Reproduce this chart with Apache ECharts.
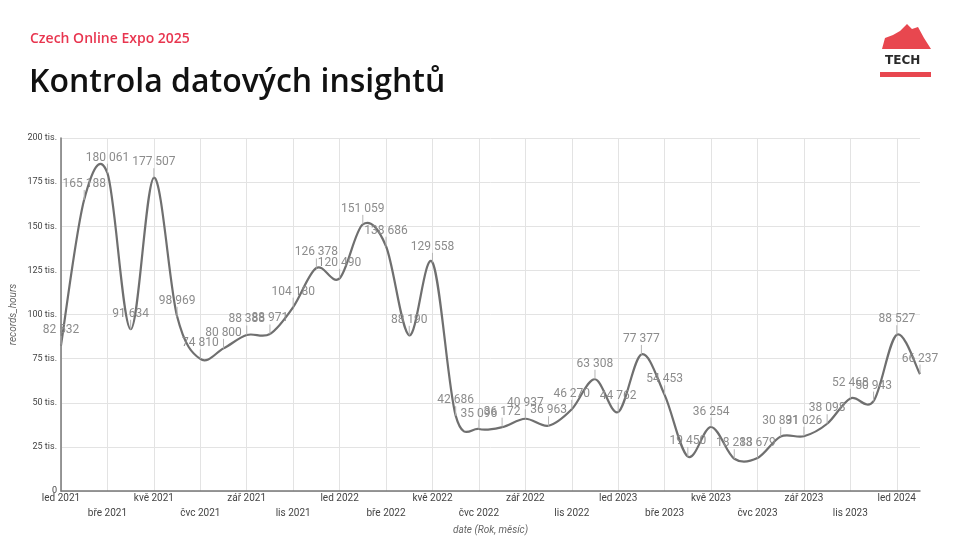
<!DOCTYPE html>
<html>
<head>
<meta charset="utf-8">
<script src="https://cdn.jsdelivr.net/npm/echarts@6/dist/echarts.min.js"></script>
<style>
html,body{margin:0;padding:0;background:#fff;}
#c{width:960px;height:540px;}
</style>
</head>
<body>
<div id="c"></div>
<script>
const monthNames = ['led','úno','bře','dub','kvě','čvn','čvc','srp','zář','říj','lis','pro'];
const categories = [];
for (let y = 2021; y <= 2024; y++) {
  for (let m = 0; m < 12; m++) {
    if (y === 2024 && m > 1) break;
    categories.push(monthNames[m] + ' ' + y);
  }
}
const recordsHours = [
  82532, 165188, 180061, 91634, 177507, 98969, 74810, 80800, 88388, 88971, 104180, 126378,
  120490, 151059, 138686, 88190, 129558, 42686, 35096, 36172, 40937, 36963, 46270, 63308,
  44762, 77377, 54453, 19450, 36254, 18283, 18679, 30891, 31026, 38098, 52468, 50943,
  88527, 66237
];
const yTicks = [0, 25000, 50000, 75000, 100000, 125000, 150000, 175000, 200000];

function fmtNum(v){ return String(v).replace(/\B(?=(\d{3})+(?!\d))/g, ' '); }

const n = recordsHours.length;
const curveData = recordsHours.map(function (v, i) { return [i, v]; });

function renderSegment(params, api) {
  const i = params.dataIndex;
  if (i >= n - 1) return null;
  const pt = function (k) {
    k = Math.max(0, Math.min(n - 1, k));
    return api.coord([k, recordsHours[k]]);
  };
  const p0 = pt(i - 1), p1 = pt(i), p2 = pt(i + 1), p3 = pt(i + 2);
  const t = 1 / 6;
  return {
    type: 'bezierCurve',
    shape: {
      x1: p1[0], y1: p1[1], x2: p2[0], y2: p2[1],
      cpx1: p1[0] + (p2[0] - p0[0]) * t, cpy1: p1[1] + (p2[1] - p0[1]) * t,
      cpx2: p2[0] - (p3[0] - p1[0]) * t, cpy2: p2[1] - (p3[1] - p1[1]) * t
    },
    style: { stroke: '#6f6f6f', lineWidth: 2.2, fill: null }
  };
}

const chart = echarts.init(document.getElementById('c'));
chart.setOption({
  backgroundColor: '#fff',
  animation: false,
  title: [
    { text: 'Czech Online Expo 2025', left: 25, top: 27,
      textStyle: { color: '#e8354f', fontSize: 14, fontWeight: 600, fontFamily: 'Open Sans', letterSpacing: 0.8 } },
    { text: 'Kontrola datových insightů', left: 24, top: 62,
      textStyle: { color: '#111', fontSize: 32, fontWeight: 600, fontFamily: 'Open Sans', letterSpacing: 1.8 } }
  ],
  graphic: [
    { type: 'polygon', shape: { points: [[882,49],[885,38],[893,35],[900,31],[907,24],[912,29],[918,27],[924,38],[931,49]] },
      style: { fill: '#e8474f' } },
    { type: 'text', left: 885, top: 55, style: { text: 'TECH', fill: '#2a2a2a', font: 'bold 12px "DejaVu Sans"', letterSpacing: 3.5 } },
    { type: 'rect', shape: { x: 880, y: 72, width: 51, height: 5 }, style: { fill: '#e8474f' } }
  ],
  grid: { left: 61, right: 40, top: 138, bottom: 49, containLabel: false, outerBoundsMode: 'none' },
  xAxis: {
    type: 'category',
    data: categories,
    boundaryGap: false,
    name: 'date (Rok, měsíc)',
    nameLocation: 'middle',
    nameGap: 26,
    nameTextStyle: { fontStyle: 'italic', color: '#666', fontSize: 10, fontFamily: 'Roboto' },
    axisLine: { lineStyle: { color: '#777', width: 1.5 } },
    axisTick: { show: false },
    axisLabel: {
      interval: 1,
      color: '#444', fontSize: 10, fontFamily: 'Roboto', margin: 0,
      formatter: function (v, i) { return (i % 4 === 2) ? '\n' + v : v; },
      lineHeight: 15
    },
    splitLine: { show: true, interval: 1, lineStyle: { color: '#e3e3e3' } }
  },
  yAxis: {
    type: 'value',
    min: yTicks[0], max: yTicks[yTicks.length - 1], interval: 25000,
    name: 'records_hours',
    nameLocation: 'middle',
    nameGap: 43,
    nameMoveOverlap: false,
    nameTextStyle: { fontStyle: 'italic', color: '#666', fontSize: 10, fontFamily: 'Roboto' },
    axisLine: { show: true, lineStyle: { color: '#777', width: 1.5 } },
    axisTick: { show: false },
    axisLabel: {
      color: '#444', fontSize: 9, fontFamily: 'Roboto', margin: 4,
      formatter: function (v) { return v === 0 ? '0' : (v / 1000) + ' tis.'; }
    },
    splitLine: { lineStyle: { color: '#e3e3e3' } }
  },
  series: [
    {
      type: 'custom',
      data: curveData,
      encode: { x: 0, y: 1 },
      renderItem: renderSegment,
      silent: true,
      z: 3
    },
    {
      type: 'line',
      data: recordsHours,
      showSymbol: true,
      symbol: 'circle',
      symbolSize: 1,
      itemStyle: { color: 'rgba(0,0,0,0)' },
      lineStyle: { opacity: 0, width: 0 },
      label: {
        show: true, position: 'top', distance: 1,
        color: '#8c8c8c', fontSize: 12, fontFamily: 'Roboto',
        formatter: function (p) { return fmtNum(p.value); }
      },
      labelLayout: { dy: -8 },
      labelLine: { show: true, length2: 0, lineStyle: { color: '#b5b5b5', width: 1 } },
      z: 4
    }
  ]
});
</script>
</body>
</html>
